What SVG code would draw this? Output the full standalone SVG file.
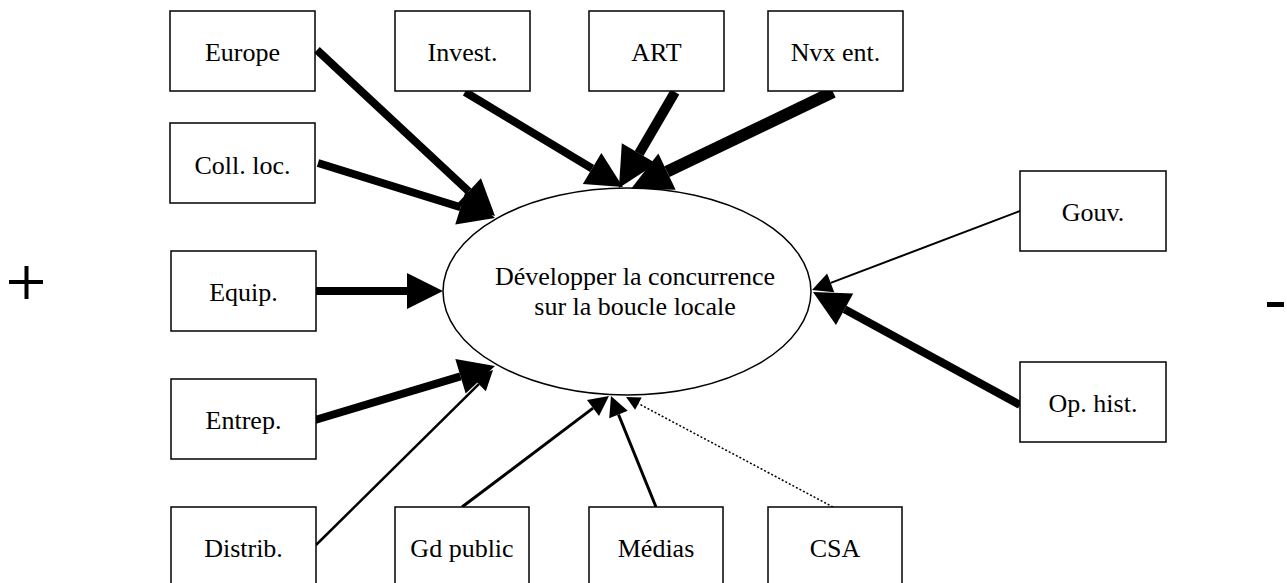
<svg xmlns="http://www.w3.org/2000/svg" width="1287" height="583" viewBox="0 0 1287 583">
<style>
.box{fill:#fff;stroke:#000;stroke-width:1.5}
text{font-family:'Liberation Serif','Times New Roman','DejaVu Serif',serif;font-size:26px;fill:#000;text-anchor:middle}
.c{stroke:#000;fill:none;stroke-linecap:butt}
</style>
<defs>
<marker id="ah-big" markerUnits="userSpaceOnUse" orient="auto" overflow="visible" refX="0" refY="0" markerWidth="1" markerHeight="1"><path d="M0,-18 L36,0 L0,18 z" fill="#000"/></marker>
<marker id="ah-huge" markerUnits="userSpaceOnUse" orient="auto" overflow="visible" refX="0" refY="0" markerWidth="1" markerHeight="1"><path d="M0,-20 L40,0 L0,20 z" fill="#000"/></marker>
<marker id="ah-med" markerUnits="userSpaceOnUse" orient="auto" overflow="visible" refX="0" refY="0" markerWidth="1" markerHeight="1"><path d="M0,-10 L20,0 L0,10 z" fill="#000"/></marker>
<marker id="ah-small" markerUnits="userSpaceOnUse" orient="auto" overflow="visible" refX="0" refY="0" markerWidth="1" markerHeight="1"><path d="M0,-7 L14,0 L0,7 z" fill="#000"/></marker>
</defs>
<rect width="1287" height="583" fill="#fff"/>

<g id="connectors">
<line class="c" x1="317" y1="50" x2="468.7" y2="191.4" stroke-width="8" marker-end="url(#ah-big)"/>
<line class="c" x1="318" y1="163" x2="460.6" y2="207.3" stroke-width="8" marker-end="url(#ah-big)"/>
<line class="c" x1="465" y1="92" x2="592.1" y2="168.5" stroke-width="8" marker-end="url(#ah-big)"/>
<line class="c" x1="675" y1="92" x2="639.1" y2="153.4" stroke-width="10" marker-end="url(#ah-huge)"/>
<line class="c" x1="833" y1="92" x2="667" y2="171.6" stroke-width="12" marker-end="url(#ah-huge)"/>
<line class="c" x1="316" y1="291" x2="407" y2="291" stroke-width="8" marker-end="url(#ah-big)"/>
<line class="c" x1="315" y1="420" x2="460.5" y2="376.3" stroke-width="8" marker-end="url(#ah-big)"/>
<line class="c" x1="316" y1="545" x2="478.8" y2="384.1" stroke-width="2.5" marker-end="url(#ah-med)"/>
<line class="c" x1="462" y1="507" x2="593" y2="408.1" stroke-width="3" marker-end="url(#ah-med)"/>
<line class="c" x1="656" y1="507" x2="618.5" y2="414.5" stroke-width="3" marker-end="url(#ah-med)"/>
<line class="c" x1="833" y1="507" x2="638.4" y2="403.6" stroke-width="1.5" stroke-dasharray="2,2" marker-end="url(#ah-small)"/>
<line class="c" x1="1020" y1="211" x2="830.7" y2="282.9" stroke-width="2" marker-end="url(#ah-med)"/>
<line class="c" x1="1020" y1="405" x2="844.6" y2="309.2" stroke-width="8" marker-end="url(#ah-big)"/>
</g>

<g id="center">
<ellipse cx="627" cy="291.5" rx="184" ry="103.5" fill="#fff" stroke="#000" stroke-width="1.5"/>
<text x="635" y="285">Développer la concurrence</text>
<text x="635" y="315">sur la boucle locale</text>
</g>

<g id="n-europe"><rect class="box" x="170" y="11" width="145" height="80"/><text x="242.5" y="61">Europe</text></g>
<g id="n-invest"><rect class="box" x="395" y="11" width="135" height="80"/><text x="462.5" y="61">Invest.</text></g>
<g id="n-art"><rect class="box" x="589" y="11" width="135" height="80"/><text x="656.5" y="61">ART</text></g>
<g id="n-nvx"><rect class="box" x="768" y="11" width="135" height="80"/><text x="835.5" y="61">Nvx ent.</text></g>
<g id="n-coll"><rect class="box" x="170" y="123" width="145" height="80"/><text x="242.5" y="174">Coll. loc.</text></g>
<g id="n-equip"><rect class="box" x="171" y="251" width="145" height="80"/><text x="243.5" y="301">Equip.</text></g>
<g id="n-entrep"><rect class="box" x="171" y="379" width="145" height="80"/><text x="243.5" y="429">Entrep.</text></g>
<g id="n-distrib"><rect class="box" x="171" y="507" width="145" height="80"/><text x="243.5" y="557">Distrib.</text></g>
<g id="n-gdpublic"><rect class="box" x="395" y="507" width="134" height="80"/><text x="462" y="557">Gd public</text></g>
<g id="n-medias"><rect class="box" x="589" y="507" width="134" height="80"/><text x="656" y="557">Médias</text></g>
<g id="n-csa"><rect class="box" x="768" y="507" width="134" height="80"/><text x="835" y="557">CSA</text></g>
<g id="n-gouv"><rect class="box" x="1020" y="171" width="146" height="80"/><text x="1093" y="221">Gouv.</text></g>
<g id="n-ophist"><rect class="box" x="1020" y="362" width="146" height="80"/><text x="1093" y="412">Op. hist.</text></g>

<g id="signs">
<rect x="9" y="280" width="34" height="4" fill="#000"/>
<rect x="24.5" y="266" width="4" height="33" fill="#000"/>
<rect x="1267" y="302" width="17" height="5" fill="#000"/>
</g>
</svg>
